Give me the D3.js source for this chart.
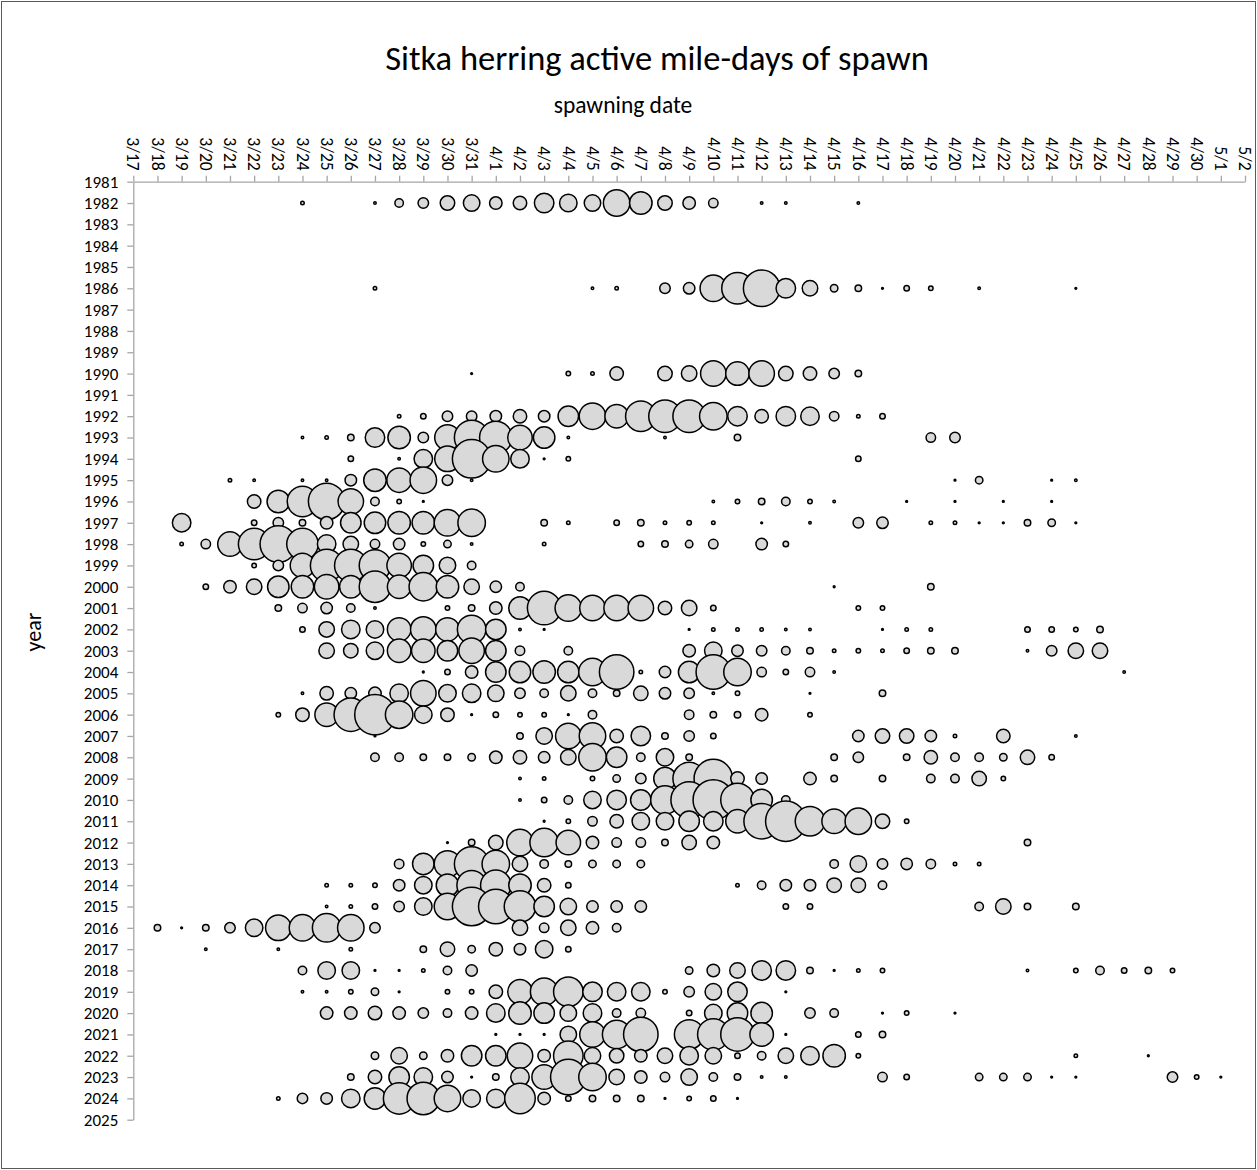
<!DOCTYPE html>
<html>
<head>
<meta charset="utf-8">
<script src="https://cdn.jsdelivr.net/npm/d3@7"></script>
<style>
  html, body { margin: 0; padding: 0; background: #fff; }
  svg { display: block; font-family: Carlito, Calibri, Lato, sans-serif; }
</style>
</head>
<body>
<svg id="chart" width="1257" height="1170"></svg>
<script>
// Spawning-date tick labels along the top axis
const dateLabels = [
  "3/17","3/18","3/19","3/20","3/21","3/22","3/23","3/24","3/25","3/26","3/27","3/28","3/29","3/30","3/31",
  "4/1","4/2","4/3","4/4","4/5","4/6","4/7","4/8","4/9","4/10","4/11","4/12","4/13","4/14","4/15",
  "4/16","4/17","4/18","4/19","4/20","4/21","4/22","4/23","4/24","4/25","4/26","4/27","4/28","4/29","4/30",
  "5/1","5/2"
];

// Year tick labels down the left axis
const years = [
  1981,1982,1983,1984,1985,1986,1987,1988,1989,1990,1991,1992,1993,1994,1995,
  1996,1997,1998,1999,2000,2001,2002,2003,2004,2005,2006,2007,2008,2009,2010,
  2011,2012,2013,2014,2015,2016,2017,2018,2019,2020,2021,2022,2023,2024,2025
];

// Active mile-days of spawn, by year: [date, miles]
const spawnByYear = [
  [1982, [["3/24",.25],["3/27",.16],["3/28",1.0],["3/29",1.44],["3/30",2.56],["3/31",3.24],["4/1",1.96],["4/2",2.25],["4/3",4.41],["4/4",3.61],["4/5",3.24],["4/6",7.84],["4/7",5.76],["4/8",2.56],["4/9",1.96],["4/10",1.21],["4/12",.16],["4/13",.16],["4/16",.16]]],
  [1986, [["3/27",.25],["4/5",.16],["4/6",.25],["4/8",1.44],["4/9",1.69],["4/10",7.84],["4/11",10.89],["4/12",14.44],["4/13",4.41],["4/14",2.89],["4/15",.81],["4/16",.64],["4/17",.09],["4/18",.49],["4/19",.36],["4/21",.16],["4/25",.09]]],
  [1990, [["3/31",.09],["4/4",.36],["4/5",.25],["4/6",2.25],["4/8",2.56],["4/9",2.89],["4/10",7.29],["4/11",6.25],["4/12",7.29],["4/13",2.56],["4/14",2.25],["4/15",1.44],["4/16",.64]]],
  [1992, [["3/28",.25],["3/29",.49],["3/30",1.44],["3/31",1.44],["4/1",1.69],["4/2",2.25],["4/3",1.69],["4/4",4.84],["4/5",7.84],["4/6",6.25],["4/7",10.24],["4/8",11.56],["4/9",11.56],["4/10",8.41],["4/11",4.41],["4/12",2.25],["4/13",4.41],["4/14",4.0],["4/15",1.21],["4/16",.25],["4/17",.49]]],
  [1993, [["3/24",.16],["3/25",.25],["3/26",.64],["3/27",4.41],["3/28",5.76],["3/29",1.44],["3/30",7.29],["3/31",12.96],["4/1",11.56],["4/2",6.76],["4/3",5.29],["4/4",.16],["4/8",.16],["4/11",.64],["4/19",1.21],["4/20",1.44]]],
  [1994, [["3/26",.49],["3/28",.16],["3/29",4.0],["3/30",7.29],["3/31",16.0],["4/1",7.84],["4/2",4.0],["4/3",.09],["4/4",.36],["4/16",.49]]],
  [1995, [["3/21",.25],["3/22",.16],["3/24",.16],["3/25",.16],["3/26",1.69],["3/27",5.76],["3/28",6.76],["3/29",7.84],["3/30",1.44],["3/31",.16],["4/20",.09],["4/21",.81],["4/24",.09],["4/25",.16]]],
  [1996, [["3/22",2.25],["3/23",5.76],["3/24",10.24],["3/25",14.44],["3/26",7.29],["3/27",1.0],["3/28",.36],["3/29",.09],["4/10",.16],["4/11",.36],["4/12",.64],["4/13",1.0],["4/14",.36],["4/15",.16],["4/18",.09],["4/20",.09],["4/22",.09],["4/24",.09]]],
  [1997, [["3/19",4.0],["3/22",.49],["3/23",1.44],["3/24",.64],["3/25",1.96],["3/26",4.84],["3/27",5.29],["3/28",5.76],["3/29",5.76],["3/30",7.84],["3/31",8.41],["4/3",.64],["4/4",.25],["4/6",.49],["4/7",.64],["4/8",.25],["4/9",.36],["4/10",.25],["4/12",.09],["4/14",.16],["4/16",1.44],["4/17",1.69],["4/19",.25],["4/20",.25],["4/21",.09],["4/22",.09],["4/23",.64],["4/24",.81],["4/25",.09]]],
  [1998, [["3/19",.25],["3/20",1.21],["3/21",6.76],["3/22",10.89],["3/23",14.44],["3/24",10.89],["3/25",4.0],["3/26",2.89],["3/27",1.21],["3/28",1.69],["3/29",.36],["3/30",.81],["3/31",.16],["4/3",.25],["4/7",.49],["4/8",.64],["4/9",.81],["4/10",1.21],["4/12",1.69],["4/13",.49]]],
  [1999, [["3/22",.36],["3/23",1.44],["3/24",6.76],["3/25",11.56],["3/26",11.56],["3/27",10.89],["3/28",6.76],["3/29",4.84],["3/30",3.24],["3/31",1.0]]],
  [2000, [["3/20",.49],["3/21",1.96],["3/22",2.89],["3/23",5.29],["3/24",5.76],["3/25",6.76],["3/26",5.76],["3/27",10.89],["3/28",6.25],["3/29",9.0],["3/30",5.76],["3/31",2.89],["4/1",1.69],["4/2",1.0],["4/15",.09],["4/19",.64]]],
  [2001, [["3/23",.64],["3/24",1.21],["3/25",1.69],["3/26",1.0],["3/27",.16],["3/30",.36],["3/31",.64],["4/1",1.96],["4/2",5.76],["4/3",12.25],["4/4",7.84],["4/5",7.29],["4/6",7.29],["4/7",7.29],["4/8",2.25],["4/9",2.89],["4/10",.49],["4/16",.36],["4/17",.36]]],
  [2002, [["3/24",.49],["3/25",2.89],["3/26",4.0],["3/27",3.61],["3/28",6.25],["3/29",7.29],["3/30",6.25],["3/31",9.0],["4/1",4.84],["4/2",.16],["4/3",.09],["4/9",.09],["4/10",.25],["4/11",.25],["4/12",.25],["4/13",.16],["4/14",.16],["4/17",.09],["4/18",.25],["4/19",.25],["4/23",.49],["4/24",.49],["4/25",.36],["4/26",.64]]],
  [2003, [["3/25",2.89],["3/26",2.56],["3/27",3.61],["3/28",6.25],["3/29",6.25],["3/30",4.84],["3/31",7.29],["4/1",4.84],["4/2",1.21],["4/4",1.0],["4/9",1.96],["4/10",3.61],["4/11",1.69],["4/12",1.44],["4/13",1.0],["4/14",.64],["4/15",.25],["4/16",.36],["4/17",.25],["4/18",.49],["4/19",.64],["4/20",.64],["4/23",.16],["4/24",1.44],["4/25",2.89],["4/26",2.89]]],
  [2004, [["3/29",.09],["3/30",.49],["3/31",1.96],["4/1",4.84],["4/2",5.29],["4/3",5.76],["4/4",5.29],["4/5",8.41],["4/6",12.96],["4/7",.25],["4/8",1.69],["4/9",5.29],["4/10",12.96],["4/11",8.41],["4/12",1.21],["4/13",.49],["4/14",1.21],["4/15",.16],["4/27",.16]]],
  [2005, [["3/24",.16],["3/25",2.25],["3/26",1.69],["3/27",1.96],["3/28",4.0],["3/29",7.29],["3/30",3.61],["3/31",4.0],["4/1",3.24],["4/2",1.44],["4/3",1.0],["4/4",2.89],["4/5",1.0],["4/6",.64],["4/7",2.56],["4/8",1.69],["4/9",1.44],["4/10",.16],["4/11",.36],["4/14",.09],["4/17",.64]]],
  [2006, [["3/23",.36],["3/24",2.25],["3/25",6.25],["3/26",12.25],["3/27",17.64],["3/28",8.41],["3/29",3.61],["3/30",2.25],["3/31",.09],["4/1",.49],["4/2",.36],["4/3",.36],["4/4",.09],["4/5",1.0],["4/9",1.21],["4/10",.64],["4/11",.64],["4/12",1.96],["4/14",.36]]],
  [2007, [["3/27",.09],["4/2",.64],["4/3",3.24],["4/4",7.29],["4/5",7.84],["4/6",2.25],["4/7",4.41],["4/8",.64],["4/9",1.44],["4/10",.49],["4/16",1.69],["4/17",2.56],["4/18",2.56],["4/19",1.69],["4/20",.25],["4/22",2.25],["4/25",.16]]],
  [2008, [["3/27",1.0],["3/28",1.0],["3/29",.64],["3/30",.64],["3/31",.81],["4/1",1.96],["4/2",2.25],["4/3",1.69],["4/4",2.89],["4/5",8.41],["4/6",4.84],["4/7",1.0],["4/8",3.61],["4/9",.64],["4/15",.64],["4/16",1.44],["4/18",.64],["4/19",2.25],["4/20",1.0],["4/21",1.0],["4/22",.81],["4/23",2.56],["4/24",.49]]],
  [2009, [["4/2",.16],["4/3",.25],["4/5",.36],["4/6",.81],["4/7",1.44],["4/8",5.76],["4/9",11.56],["4/10",16.0],["4/11",2.25],["4/12",1.69],["4/14",1.96],["4/15",.64],["4/17",.64],["4/19",1.0],["4/20",1.0],["4/21",2.56],["4/22",.36]]],
  [2010, [["4/2",.16],["4/3",.49],["4/4",1.0],["4/5",3.61],["4/6",4.41],["4/7",4.84],["4/8",9.0],["4/9",14.44],["4/10",17.64],["4/11",12.25],["4/12",5.29],["4/13",1.0]]],
  [2011, [["4/3",.09],["4/4",.36],["4/5",1.21],["4/6",2.25],["4/7",3.61],["4/8",3.61],["4/9",4.84],["4/10",4.41],["4/11",6.25],["4/12",13.69],["4/13",17.64],["4/14",9.61],["4/15",6.76],["4/16",7.84],["4/17",2.56],["4/18",.36]]],
  [2012, [["3/30",.09],["3/31",.64],["4/1",2.56],["4/2",7.84],["4/3",9.0],["4/4",6.76],["4/5",1.96],["4/6",1.21],["4/7",1.21],["4/8",.64],["4/9",2.56],["4/10",1.96],["4/23",.64]]],
  [2013, [["3/28",1.21],["3/29",5.29],["3/30",7.84],["3/31",12.96],["4/1",8.41],["4/2",2.89],["4/3",1.0],["4/4",.64],["4/5",.81],["4/6",.81],["4/7",.81],["4/15",1.0],["4/16",3.24],["4/17",1.44],["4/18",1.69],["4/19",1.21],["4/20",.25],["4/21",.25]]],
  [2014, [["3/25",.25],["3/26",.25],["3/27",.36],["3/28",1.69],["3/29",3.61],["3/30",5.76],["3/31",9.61],["4/1",10.24],["4/2",5.76],["4/3",2.25],["4/4",.49],["4/11",.25],["4/12",1.0],["4/13",1.69],["4/14",1.69],["4/15",2.56],["4/16",2.56],["4/17",1.0]]],
  [2015, [["3/25",.16],["3/26",.25],["3/27",.49],["3/28",1.44],["3/29",3.61],["3/30",7.84],["3/31",16.0],["4/1",12.96],["4/2",10.89],["4/3",4.84],["4/4",3.24],["4/5",1.69],["4/6",1.69],["4/7",1.69],["4/13",.49],["4/14",.49],["4/21",1.0],["4/22",2.89],["4/23",.64],["4/25",.64]]],
  [2016, [["3/18",.64],["3/19",.09],["3/20",.64],["3/21",1.44],["3/22",3.61],["3/23",7.29],["3/24",7.84],["3/25",9.0],["3/26",7.84],["3/27",1.44],["4/2",2.89],["4/3",1.21],["4/4",2.89],["4/5",1.96],["4/6",1.0]]],
  [2017, [["3/20",.16],["3/23",.16],["3/26",.25],["3/29",.64],["3/30",2.56],["3/31",.81],["4/1",2.25],["4/2",1.69],["4/3",3.61],["4/4",.49]]],
  [2018, [["3/24",1.0],["3/25",3.61],["3/26",3.61],["3/27",.09],["3/28",.09],["3/29",.25],["3/30",1.0],["3/31",1.69],["4/9",.81],["4/10",1.96],["4/11",2.89],["4/12",4.41],["4/13",4.41],["4/14",.64],["4/15",.09],["4/16",.25],["4/17",.36],["4/23",.16],["4/25",.36],["4/26",1.0],["4/27",.49],["4/28",.64],["4/29",.36]]],
  [2019, [["3/24",.16],["3/25",.16],["3/26",.36],["3/27",.81],["3/28",.09],["3/30",.36],["3/31",.36],["4/1",2.25],["4/2",6.76],["4/3",8.41],["4/4",9.61],["4/5",4.41],["4/6",4.0],["4/7",4.0],["4/8",.36],["4/9",1.44],["4/10",3.24],["4/11",4.41],["4/13",.09]]],
  [2020, [["3/25",1.96],["3/26",1.96],["3/27",2.25],["3/28",1.96],["3/29",1.44],["3/30",1.0],["3/31",1.96],["4/1",4.0],["4/2",5.76],["4/3",4.84],["4/4",3.24],["4/5",4.0],["4/6",1.0],["4/7",1.21],["4/9",.49],["4/10",3.61],["4/11",4.84],["4/12",5.29],["4/14",1.44],["4/15",1.0],["4/17",.09],["4/18",.36],["4/20",.09]]],
  [2021, [["4/1",.09],["4/2",.09],["4/3",.09],["4/4",3.24],["4/5",7.29],["4/6",9.0],["4/7",12.96],["4/9",9.61],["4/10",10.89],["4/11",12.25],["4/12",6.25],["4/13",.09],["4/16",.49],["4/17",.64]]],
  [2022, [["3/27",.81],["3/28",3.24],["3/29",.81],["3/30",1.96],["3/31",4.84],["4/1",4.84],["4/2",7.29],["4/3",1.96],["4/4",9.61],["4/5",3.24],["4/6",2.56],["4/7",1.96],["4/8",2.89],["4/9",4.0],["4/10",3.24],["4/11",.49],["4/12",1.0],["4/13",2.89],["4/14",4.0],["4/15",5.76],["4/16",.36],["4/25",.25],["4/28",.09]]],
  [2023, [["3/26",.64],["3/27",2.25],["3/28",4.84],["3/29",4.0],["3/30",1.69],["3/31",.09],["4/1",.64],["4/2",4.0],["4/3",6.76],["4/4",13.69],["4/5",8.41],["4/6",2.89],["4/7",1.96],["4/8",1.21],["4/9",3.24],["4/10",1.0],["4/11",.64],["4/12",.16],["4/13",.16],["4/17",1.21],["4/18",.49],["4/21",.81],["4/22",.81],["4/23",.81],["4/24",.09],["4/25",.09],["4/29",1.44],["4/30",.36],["5/1",.09]]],
  [2024, [["3/23",.25],["3/24",1.44],["3/25",1.69],["3/26",4.0],["3/27",5.29],["3/28",10.89],["3/29",11.56],["3/30",7.84],["3/31",3.61],["4/1",4.0],["4/2",10.24],["4/3",1.96],["4/4",.49],["4/5",.64],["4/6",.64],["4/7",.64],["4/8",.09],["4/9",.36],["4/10",.49],["4/11",.09]]]
];

const svg = d3.select("#chart");
const W = 1257, H = 1170;
const FONT = "Carlito, Calibri, Lato, sans-serif";

// Outer chart frame
svg.append("rect")
  .attr("x", 1.5).attr("y", 1.5)
  .attr("width", W - 3).attr("height", H - 3)
  .attr("fill", "#fff").attr("stroke", "#595959").attr("stroke-width", 1);

const plot = { left: 133.3, right: 1245, top: 181.7, bottom: 1119.7 };

const x = d3.scalePoint().domain(dateLabels).range([plot.left, plot.right]);
const y = d3.scalePoint().domain(years).range([plot.top, plot.bottom]);
const r = d3.scaleSqrt().domain([0, 16]).range([0, 20]);

// Title and axis titles
svg.append("text")
  .attr("x", 657).attr("y", 70)
  .attr("text-anchor", "middle")
  .attr("font-size", 34.5).attr("fill", "#000")
  .text("Sitka herring active mile-days of spawn");

svg.append("text")
  .attr("x", 623).attr("y", 113)
  .attr("text-anchor", "middle")
  .attr("font-size", 23.5).attr("fill", "#000")
  .text("spawning date");

svg.append("text")
  .attr("transform", "translate(41,632) rotate(-90)")
  .attr("text-anchor", "middle")
  .attr("font-size", 22).attr("fill", "#000")
  .text("year");

// Top date axis with rotated labels
const xAxis = svg.append("g")
  .attr("transform", `translate(0,${plot.top})`)
  .call(d3.axisTop(x).tickSize(6).tickSizeOuter(0));
xAxis.select(".domain").attr("stroke", "#a6a6a6").attr("stroke-width", 1.3);
xAxis.selectAll(".tick line").attr("stroke", "#a6a6a6").attr("stroke-width", 1.3);
xAxis.selectAll(".tick text")
  .attr("font-family", FONT)
  .attr("font-size", 17.5).attr("fill", "#000")
  .attr("text-anchor", "end")
  .attr("transform", "translate(0,-11) rotate(90)")
  .attr("x", 0).attr("y", 0).attr("dy", "0.36em");

// Left year axis
const yAxis = svg.append("g")
  .attr("transform", `translate(${plot.left},0)`)
  .call(d3.axisLeft(y).tickSize(6).tickSizeOuter(0).tickFormat(d3.format("d")));
yAxis.select(".domain").attr("stroke", "#a6a6a6").attr("stroke-width", 1.3);
yAxis.selectAll(".tick line").attr("stroke", "#a6a6a6").attr("stroke-width", 1.3);
yAxis.selectAll(".tick text")
  .attr("font-family", FONT)
  .attr("font-size", 17).attr("fill", "#000")
  .attr("x", -15);

// Spawn bubbles, area proportional to mile-days
const points = spawnByYear.flatMap(([yr, days]) =>
  days.map(([date, miles]) => ({ yr, date, miles })));

svg.append("g")
  .selectAll("circle")
  .data(points)
  .join("circle")
  .attr("cx", d => x(d.date))
  .attr("cy", d => y(d.yr))
  .attr("r", d => Math.max(0.9, r(d.miles) - 0.75))
  .attr("fill", "#d9d9d9")
  .attr("stroke", "#000")
  .attr("stroke-width", 1.5);
</script>
</body>
</html>
